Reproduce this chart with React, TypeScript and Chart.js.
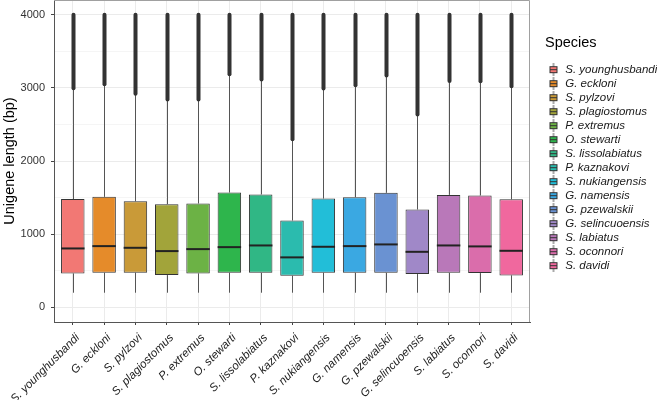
import { useEffect, useRef } from 'react';
import { Chart, registerables } from 'chart.js';

Chart.register(...registerables);

const species = [
  'S. younghusbandi', 'G. eckloni', 'S. pylzovi', 'S. plagiostomus', 'P. extremus',
  'O. stewarti', 'S. lissolabiatus', 'P. kaznakovi', 'S. nukiangensis', 'G. namensis',
  'G. pzewalskii', 'G. selincuoensis', 'S. labiatus', 'S. oconnori', 'S. davidi',
];
const q1 = [464, 472, 472, 441, 464, 472, 472, 431, 472, 472, 472, 455, 472, 468, 437];
const medians = [805, 837, 814, 769, 796, 823, 846, 683, 828, 837, 860, 759, 846, 833, 773];
const q3 = [1480, 1510, 1451, 1410, 1420, 1570, 1543, 1188, 1488, 1506, 1565, 1338, 1537, 1529, 1478];
const whiskerLow = [200, 200, 200, 200, 200, 200, 200, 200, 200, 200, 200, 200, 200, 200, 200];
const whiskerHigh = [2995, 3050, 2918, 2840, 2840, 3185, 3113, 2298, 2990, 3035, 3167, 2635, 3094, 3090, 3021];
const outlierMax = [4000, 4000, 4000, 4000, 4000, 4000, 4000, 4000, 4000, 4000, 4000, 4000, 4000, 4000, 4000];
const yTicks = [0, 500, 1000, 1500, 2000, 2500, 3000, 3500, 4000];
const colors = [
  '#F27874', '#E58B2A', '#C99A38', '#A2A43A', '#6CB245',
  '#2EB54C', '#30B785', '#2BBBAE', '#22BED8', '#3AA8E2',
  '#6A92D2', '#A088C8', '#B978B9', '#DA6DAB', '#F0689E',
];

const FONT = "'Liberation Sans', Arial, sans-serif";

function makeIcon(color: string): HTMLCanvasElement {
  const c = document.createElement('canvas');
  c.width = 10;
  c.height = 13;
  const g = c.getContext('2d')!;
  g.strokeStyle = '#555';
  g.lineWidth = 1;
  g.beginPath();
  g.moveTo(5, 0);
  g.lineTo(5, 13);
  g.stroke();
  g.fillStyle = color;
  g.fillRect(1.5, 3.5, 7, 6);
  g.strokeStyle = '#333';
  g.strokeRect(1.5, 3.5, 7, 6);
  g.beginPath();
  g.moveTo(1.5, 6.5);
  g.lineTo(8.5, 6.5);
  g.stroke();
  return c;
}

const boxExtras = {
  id: 'boxExtras',
  beforeDatasetsDraw(chart: any) {
    const { ctx } = chart;
    const xs = chart.scales.x;
    const ys = chart.scales.y;
    ctx.save();
    ctx.strokeStyle = '#555';
    ctx.lineWidth = 1;
    species.forEach((_, i) => {
      const x = Math.round(xs.getPixelForValue(i)) + 0.5;
      ctx.beginPath();
      ctx.moveTo(x, ys.getPixelForValue(q3[i]));
      ctx.lineTo(x, ys.getPixelForValue(whiskerHigh[i]));
      ctx.moveTo(x, ys.getPixelForValue(q1[i]));
      ctx.lineTo(x, ys.getPixelForValue(whiskerLow[i]));
      ctx.stroke();
    });
    ctx.restore();
  },
  afterDatasetsDraw(chart: any) {
    const { ctx, chartArea } = chart;
    const xs = chart.scales.x;
    const ys = chart.scales.y;
    ctx.save();
    species.forEach((_, i) => {
      const el = chart.getDatasetMeta(i).data[0];
      const x = xs.getPixelForValue(i);
      const hw = el ? el.width / 2 : 11;
      ctx.strokeStyle = '#222';
      ctx.lineWidth = 2;
      ctx.beginPath();
      const ym = ys.getPixelForValue(medians[i]);
      ctx.moveTo(x - hw, ym);
      ctx.lineTo(x + hw, ym);
      ctx.stroke();
      ctx.strokeStyle = '#333';
      ctx.lineWidth = 4;
      ctx.lineCap = 'round';
      ctx.beginPath();
      ctx.moveTo(Math.round(x) + 0.5, ys.getPixelForValue(whiskerHigh[i]));
      ctx.lineTo(Math.round(x) + 0.5, ys.getPixelForValue(outlierMax[i]));
      ctx.stroke();
      ctx.lineCap = 'butt';
    });
    ctx.strokeStyle = '#a0a0a0';
    ctx.lineWidth = 1;
    ctx.beginPath();
    ctx.moveTo(chartArea.left, chartArea.top + 0.5);
    ctx.lineTo(chartArea.right - 0.5, chartArea.top + 0.5);
    ctx.lineTo(chartArea.right - 0.5, chartArea.bottom);
    ctx.stroke();
    ctx.restore();
  },
};

const noPad = (s: any) => {
  s.paddingTop = 0;
  s.paddingBottom = 0;
  s.paddingLeft = 0;
  s.paddingRight = 0;
};

export default function App() {
  const ref = useRef<HTMLCanvasElement>(null);
  useEffect(() => {
    if (!ref.current) return;
    const icons = colors.map(makeIcon);
    const chart = new Chart(ref.current, {
      type: 'bar',
      data: {
        datasets: species.map((s, i) => ({
          label: s,
          data: [{ x: i, y: [q1[i], q3[i]] }],
          backgroundColor: colors[i],
          borderColor: '#333',
          borderWidth: 1,
          borderSkipped: false,
          grouped: false,
          barPercentage: 0.75,
          categoryPercentage: 1,
        })) as any,
      },
      options: {
        responsive: false,
        animation: false,
        devicePixelRatio: 1,
        layout: { padding: { top: 0, right: 0, bottom: 0, left: 0 } },
        font: { family: FONT },
        plugins: {
          tooltip: { enabled: false },
          legend: {
            position: 'right',
            align: 'start',
            maxWidth: 112,
            title: {
              display: true,
              text: 'Species',
              position: 'start',
              color: '#000',
              font: { size: 14.5, family: FONT },
              padding: { top: 36, bottom: 8 },
            },
            labels: {
              usePointStyle: true,
              pointStyleWidth: 12,
              boxHeight: 11.5,
              padding: 2.5,
              color: '#1a1a1a',
              font: { size: 11.5, style: 'italic', family: FONT },
              generateLabels: () =>
                species.map((s, i) => ({
                  text: s,
                  pointStyle: icons[i],
                  fillStyle: colors[i],
                  strokeStyle: '#333',
                  lineWidth: 0,
                  hidden: false,
                  datasetIndex: i,
                  fontColor: '#1a1a1a',
                })) as any,
            },
          },
        },
        scales: {
          x: {
            type: 'linear',
            min: -0.6,
            max: 14.6,
            offset: false,
            afterBuildTicks: (s: any) => {
              s.ticks = species.map((_, i) => ({ value: i }));
            },
            afterFit: (s: any) => {
              s.height = 78;
              noPad(s);
            },
            grid: { offset: false, color: '#ebebeb', tickColor: '#444', tickLength: 3, lineWidth: 1 },
            border: { display: true, color: '#555', width: 1 },
            ticks: {
              autoSkip: false,
              minRotation: 45,
              maxRotation: 45,
              padding: 6,
              labelOffset: 5,
              color: '#222',
              font: { size: 11.5, style: 'italic', family: FONT },
              callback: (v: any) => species[v as number] ?? '',
            },
          },
          y: {
            type: 'linear',
            min: -200,
            max: 4200,
            afterBuildTicks: (s: any) => {
              s.ticks = yTicks.map((v) => ({ value: v }));
            },
            afterFit: (s: any) => {
              s.width = 54;
              noPad(s);
            },
            grid: {
              color: (c: any) => (c.tick && c.tick.value % 1000 === 0 ? '#ebebeb' : '#f5f5f5'),
              tickColor: (c: any) => (c.tick && c.tick.value % 1000 === 0 ? '#444' : 'rgba(0,0,0,0)'),
              tickLength: 3,
            },
            border: { display: true, color: '#555', width: 1 },
            ticks: {
              padding: 6,
              color: '#333',
              font: { size: 11, family: FONT },
              callback: (v: any) => ((v as number) % 1000 === 0 ? String(v) : ''),
            },
            title: {
              display: true,
              text: 'Unigene length (bp)',
              color: '#000',
              font: { size: 14.5, family: FONT },
              padding: { top: 1, bottom: 0 },
            },
          },
          gap: {
            type: 'linear',
            position: 'right',
            display: true,
            afterFit: (s: any) => {
              s.width = 15;
              noPad(s);
            },
            grid: { display: false, drawOnChartArea: false },
            ticks: { display: false },
            border: { display: false },
          },
        } as any,
      },
      plugins: [boxExtras],
    });
    return () => chart.destroy();
  }, []);
  return (
    <div style={{ position: 'absolute', left: 0, top: 0, width: 657, height: 400 }}>
      <canvas ref={ref} width={657} height={400} />
    </div>
  );
}
